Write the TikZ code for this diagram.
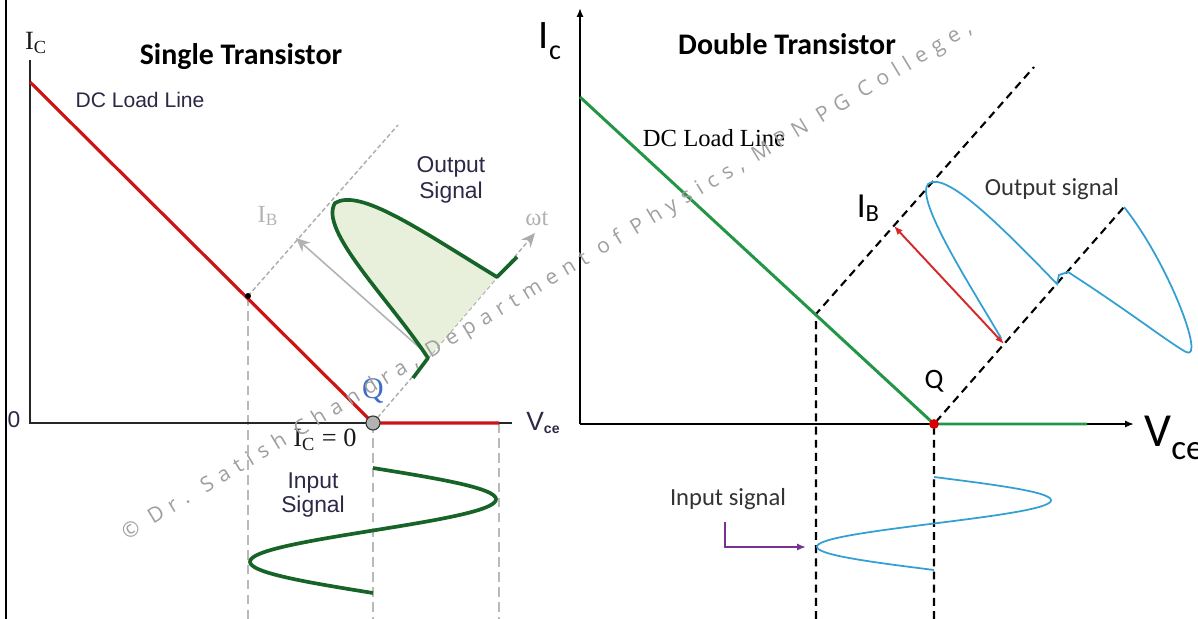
\documentclass[tikz,border=0pt]{standalone}
\usepackage{fontspec}
\usepackage{tikz}
\usetikzlibrary{arrows.meta, calc}
\setmainfont{Liberation Sans}
\newfontfamily\calibri{Carlito}
\newfontfamily\serifo{Liberation Serif}
\newfontfamily\wmfont[LetterSpace=35]{Open Sans}
\usepackage{xcolor}
\definecolor{redload}{RGB}{205,20,20}
\definecolor{greenload}{RGB}{35,150,70}
\definecolor{darkgreen}{RGB}{22,100,40}
\definecolor{paleareagreen}{RGB}{232,240,220}
\definecolor{wavecyan}{RGB}{50,160,210}
\definecolor{arrowred}{RGB}{215,40,40}
\definecolor{arrowpurple}{RGB}{120,50,150}
\definecolor{qblue}{RGB}{60,110,200}
\definecolor{textnavy}{RGB}{45,40,70}
\tikzset{
    axisline/.style={black, line width=1.2pt},
    greyguide/.style={gray!55, line width=1pt, dash pattern=on 5.5pt off 3pt},
    greyaxis/.style={gray!65, line width=0.8pt, dash pattern=on 2.5pt off 1.5pt},
    greyarrow/.style={gray!60, line width=0.9pt, -{Stealth[length=8pt,width=7pt]}},
    blackguide/.style={black, line width=1.2pt, dash pattern=on 4.5pt off 3pt},
    loadleft/.style={draw=redload, line width=1.8pt},
    loadright/.style={draw=greenload, line width=1.7pt},
    wavegreen/.style={draw=darkgreen, line width=2.1pt, line join=round},
    waveblue/.style={draw=wavecyan, line width=1pt},
    headline/.style={font=\calibri\bfseries\fontsize{17}{20}\selectfont},
    smalltext/.style={font=\fontsize{12}{14}\selectfont, text=textnavy, align=center},
    serifgrey/.style={font=\serifo\fontsize{14}{14}\selectfont, text=gray!60},
    calitext/.style={font=\calibri\fontsize{14}{16}\selectfont, text=black!80},
    qdot/.style={circle, inner sep=0pt, minimum size=#1},
    watermark/.style={font=\wmfont\fontsize{12}{14}\selectfont, text=gray!75, inner sep=0pt}
}

\begin{document}
\begin{tikzpicture}[x=0.02cm, y=-0.02cm]
    \useasboundingbox (0,0) rectangle (1198,619);

    \coordinate (frametop) at (6,0);
    \coordinate (framebot) at (6,619);
    \coordinate (lytop) at (30,60);
    \coordinate (lo) at (30,423);
    \coordinate (lxend) at (512,423);
    \coordinate (lloadtop) at (30,82);
    \coordinate (lq) at (373,423);
    \coordinate (lloadend) at (499,423);
    \coordinate (ldot) at (248,296);
    \coordinate (libend) at (398,125);
    \coordinate (lwt) at (535,233);
    \coordinate (libhead) at (296,238);
    \coordinate (libtail) at (421,349);
    \coordinate (lout1) at (413,378);
    \coordinate (lout2) at (428,358);
    \coordinate (lout3) at (497,277);
    \coordinate (lout4) at (517,257);
    \coordinate (ldotbot) at (248,619);
    \coordinate (lqbot) at (373,619);
    \coordinate (lendbot) at (499,619);

    \coordinate (rytop) at (580,8);
    \coordinate (ro) at (580,424);
    \coordinate (rxend) at (1134,424);
    \coordinate (rloadtop) at (580,97);
    \coordinate (rq) at (934,424);
    \coordinate (rloadend) at (1087,424);
    \coordinate (rp) at (816,314);
    \coordinate (rpbot) at (816,619);
    \coordinate (rqbot) at (934,619);
    \coordinate (rupend) at (1034,67);
    \coordinate (rlowend) at (1124,207);
    \coordinate (rarrowa) at (894,226);
    \coordinate (rarrowb) at (1004,344);
    \coordinate (pin1) at (725,522);
    \coordinate (pin2) at (806,547);

    \draw[line width=1.6pt] (frametop) -- (framebot);

    \draw[greyguide] (ldot) -- (ldotbot);
    \draw[greyguide] (lq) -- (lqbot);
    \draw[greyguide] (lloadend) -- (lendbot);
    \draw[greyaxis] (ldot) -- (libend);
    \draw[greyaxis, -{Stealth[length=8pt,width=7pt]}] (lq) -- (lwt);
    \draw[greyarrow] (libtail) -- (libhead);
    \draw[line width=1pt, gray!30!black] (lytop) -- (lo) -- (lxend);
    \draw[loadleft] (lloadtop) -- (lq) -- (lloadend);
    \fill[paleareagreen] (lout2) .. controls (390,300) and (318,230) .. (335,203)
        .. controls (360,188) and (420,230) .. (lout3) -- cycle;
    \draw[wavegreen] (lout1) -- (lout2) .. controls (390,300) and (318,230) .. (335,203)
        .. controls (360,188) and (420,230) .. (lout3) -- (lout4);
    \draw[wavegreen] plot[domain=0:125, samples=90, smooth] ({373+123*sin(2.88*\x)}, {468+\x});
    \node[qdot=3.4pt, fill=black] (ldotnode) at (ldot) {};
    \node[qdot=8pt, fill=gray!60, draw=gray!40!black, line width=0.6pt] (lqnode) at (lq) {};

    \node[headline] (singletitle) at (241,57) {Single Transistor};
    \node[font=\serifo\fontsize{15}{15}\selectfont, text=gray!20!black] (lictext) at (36,43) {I\textsubscript{C}};
    \node[smalltext] (lloadtext) at (140,100) {DC Load Line};
    \node[smalltext, font=\fontsize{13}{14.5}\selectfont] (louttext) at (451,180) {Output\\Signal};
    \node[smalltext, font=\fontsize{13}{13.5}\selectfont] (lintext) at (313,495) {Input\\Signal};
    \node[font=\serifo\fontsize{15}{15}\selectfont, text=gray!20!black] (lic0) at (325,440) {I\textsubscript{C} = 0};
    \node[font=\fontsize{13}{13}\selectfont, text=textnavy] (lzero) at (14,420) {0};
    \node[font=\fontsize{15}{15}\selectfont, text=textnavy] (lvce) at (543,423) {V\raisebox{-2pt}{\fontsize{8}{8}\selectfont\bfseries ce}};
    \node[font=\serifo\fontsize{17}{17}\selectfont, text=qblue] (lqtext) at (373,391) {Q};
    \node[serifgrey] (libtext) at (268,216) {I\textsubscript{B}};
    \node[serifgrey] (lwttext) at (537,219) {ωt};

    \draw[blackguide] (rpbot) -- (rp) -- (rupend);
    \draw[blackguide] (rqbot) -- (rq) -- (rlowend);
    \draw[axisline, -{Latex[length=5pt,width=4pt]}] (ro) -- (rytop);
    \draw[axisline, -{Latex[length=5pt,width=4pt]}] (ro) -- (rxend);
    \draw[loadright] (rloadtop) -- (rq) -- (rloadend);
    \draw[arrowred, line width=1.1pt, {Latex[length=5pt,width=4pt]}-{Latex[length=5pt,width=4pt]}] (rarrowa) -- (rarrowb);
    \draw[waveblue] (1001,338) .. controls (970,285) and (915,200) .. (928,184)
        .. controls (945,170) and (1000,225) .. (1057,284) -- (1059,275) -- (1068,272)
        .. controls (1130,312) and (1168,342) .. (1186,352)
        .. controls (1206,362) and (1168,262) .. (rlowend);
    \draw[waveblue] plot[domain=0:93, samples=80, smooth] ({934+117*sin(3.871*\x)}, {477+\x});
    \draw[arrowpurple, line width=1.1pt, -{Latex[length=5pt,width=4pt]}] (pin1) |- (pin2);
    \node[qdot=5.6pt, fill=red!85!black] (rqnode) at (rq) {};

    \node[headline] (doubletitle) at (787,44) {Double Transistor};
    \node[font=\calibri\fontsize{23}{23}\selectfont] (rictext) at (550,41) {I\raisebox{-6pt}{\fontsize{16}{16}\selectfont c}};
    \node[font=\calibri\fontsize{27}{27}\selectfont] (rvce) at (1174,438) {V\raisebox{-7pt}{\fontsize{20}{20}\selectfont ce}};
    \node[font=\serifo\fontsize{14}{14}\selectfont] (rloadtext) at (714,138) {DC Load Line};
    \node[font=\calibri\fontsize{20}{20}\selectfont] (ribtext) at (868,208) {I\raisebox{-2pt}{\fontsize{14}{14}\selectfont B}};
    \node[calitext] (routtext) at (1052,189) {Output signal};
    \node[calitext] (rintext) at (728,499) {Input signal};
    \node[font=\calibri\fontsize{16}{16}\selectfont] (rqtext) at (934,381) {Q};

    \node[watermark, rotate=31, anchor=west] (wm) at (124,536) {© Dr. Satish Chandra, Department of Physics, MPN PG College,};
\end{tikzpicture}
\end{document}
